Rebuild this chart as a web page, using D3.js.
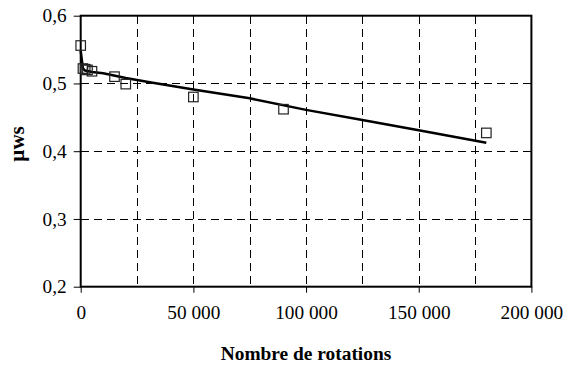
<html>
<head>
<script src="https://d3js.org/d3.v7.min.js"></script>
<style>
    body { margin: 0; background: #fff; }
    svg { display: block; }
    .grid line { stroke: #000; stroke-width: 1px; stroke-dasharray: 8,5; shape-rendering: crispEdges; }
</style>
</head>
<body>
<svg id="the-chart" width="572" height="367"></svg>
<script>
    // measured points (nombre de rotations, mu ws)
    var pointX = [0, 1000, 2000, 3000, 5000, 15000, 20000, 50000, 90000, 180000];
    var pointY = [0.556, 0.522, 0.521, 0.520, 0.518, 0.510, 0.499, 0.480, 0.462, 0.427];

    // fitted curve
    var curveX = [0, 1000, 2000, 5000, 10000, 20000, 30000, 50000, 75000, 100000, 125000, 150000, 180000];
    var curveY = [0.548, 0.522, 0.519, 0.517, 0.515, 0.508, 0.502, 0.491, 0.478, 0.461, 0.446, 0.431, 0.4125];

    var xTicks = [0, 50000, 100000, 150000, 200000];
    var xGrid = [25000, 50000, 75000, 100000, 125000, 150000, 175000];
    var yTicks = [0.2, 0.3, 0.4, 0.5, 0.6];
    var yGrid = [0.3, 0.4, 0.5];

    var serif = 'Liberation Serif';

    var svg = d3.select('#the-chart');
    var pLeft = 80.7, pRight = 531.4, pTop = 15.7, pBottom = 286.7;

    var x = d3.scaleLinear().domain([0, 200000]).range([pLeft, pRight]);
    var y = d3.scaleLinear().domain([0.2, 0.6]).range([pBottom, pTop]);

    var fr = d3.formatLocale({ decimal: ',', thousands: ' ', grouping: [3], currency: ['', ''] });
    var fx = fr.format(',d');
    var fy = fr.format('.1f');

    // grid
    var grid = svg.append('g').attr('class', 'grid');
    grid.selectAll('.vg').data(xGrid).enter().append('line')
        .attr('x1', function(d) { return Math.round(x(d)) + 0.5; })
        .attr('x2', function(d) { return Math.round(x(d)) + 0.5; })
        .attr('y1', pTop).attr('y2', pBottom);
    grid.selectAll('.hg').data(yGrid).enter().append('line')
        .attr('y1', function(d) { return Math.round(y(d)) + 0.5; })
        .attr('y2', function(d) { return Math.round(y(d)) + 0.5; })
        .attr('x1', pLeft).attr('x2', pRight);

    // axes
    var xAxis = d3.axisBottom(x).tickValues(xTicks).tickFormat(fx).tickSize(6).tickPadding(13);
    var gx = svg.append('g').attr('transform', 'translate(0,' + pBottom + ')').call(xAxis);
    var yAxis = d3.axisLeft(y).tickValues(yTicks).tickFormat(fy).tickSize(7).tickPadding(7);
    var gy = svg.append('g').attr('transform', 'translate(' + pLeft + ',0)').call(yAxis);
    [gx, gy].forEach(function(g) {
        g.attr('font-family', serif).attr('font-size', 19.3);
        g.select('.domain').remove();
        g.selectAll('.tick line').attr('stroke', '#000').attr('stroke-width', 1);
        g.selectAll('.tick text').attr('fill', '#000');
    });

    // frame
    svg.append('rect')
        .attr('x', pLeft).attr('y', pTop)
        .attr('width', pRight - pLeft).attr('height', pBottom - pTop)
        .attr('fill', 'none').attr('stroke', '#000').attr('stroke-width', 2);

    // curve
    var line = d3.line()
        .x(function(d) { return x(d[0]); })
        .y(function(d) { return y(d[1]); });
    svg.append('path')
        .datum(d3.zip(curveX, curveY))
        .attr('d', line)
        .attr('fill', 'none').attr('stroke', '#000').attr('stroke-width', 2.5);

    // markers
    var s = 9.5;
    svg.selectAll('.pt').data(d3.zip(pointX, pointY)).enter().append('rect')
        .attr('x', function(d) { return x(d[0]) - s / 2; })
        .attr('y', function(d) { return y(d[1]) - s / 2; })
        .attr('width', s).attr('height', s)
        .attr('fill', 'none').attr('stroke', '#222').attr('stroke-width', 1.2);

    // titles
    svg.append('text')
        .attr('x', 306).attr('y', 360)
        .attr('text-anchor', 'middle')
        .attr('font-family', serif)
        .attr('font-size', 19.4).attr('font-weight', 'bold')
        .text('Nombre de rotations');
    svg.append('text')
        .attr('transform', 'translate(24,144) rotate(-90)')
        .attr('text-anchor', 'middle')
        .attr('font-family', serif)
        .attr('font-size', 21).attr('font-weight', 'bold')
        .text('µws');
</script>
</body>
</html>
